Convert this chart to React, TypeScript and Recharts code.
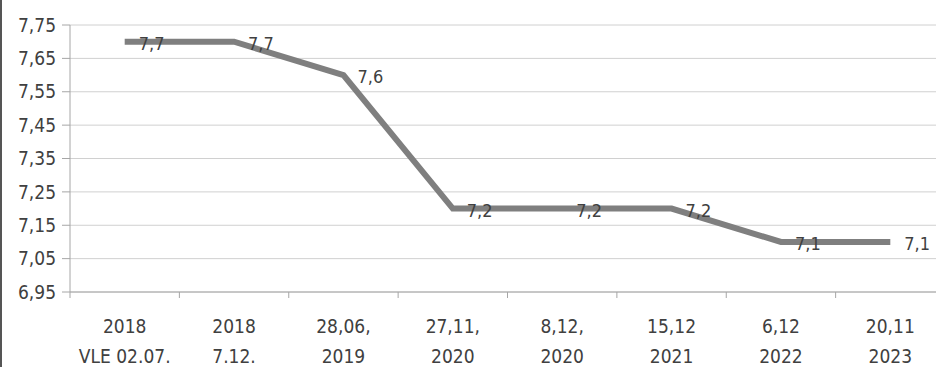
import React from 'react';
import { LineChart, Line, XAxis, YAxis, CartesianGrid, LabelList } from 'recharts';

const dateTop = ['2018', '2018', '28,06,', '27,11,', '8,12,', '15,12', '6,12', '20,11'];
const dateBottom = ['VLE 02.07.', '7.12.', '2019', '2020', '2020', '2021', '2022', '2023'];
const rates = [7.7, 7.7, 7.6, 7.2, 7.2, 7.2, 7.1, 7.1];
const yTicks = [6.95, 7.05, 7.15, 7.25, 7.35, 7.45, 7.55, 7.65, 7.75];

const data = dateTop.map((top, i) => ({ top, bottom: dateBottom[i], rate: rates[i] }));

const FONT = '"Liberation Sans Narrow", "DejaVu Sans Condensed", "Open Sans", sans-serif';
const CHART_W = 950;
const PLOT_LEFT = 70;
const PLOT_RIGHT = 5;
const BAND = (CHART_W - PLOT_LEFT - PLOT_RIGHT) / dateTop.length;

const comma = (v: number, digits: number) => v.toFixed(digits).replace('.', ',');

const DateTick = ({ x, y, payload, index }: any) => {
  const row = data[index] || { top: payload.value, bottom: '' };
  return (
    <g>
      <line x1={x - BAND / 2} x2={x - BAND / 2} y1={y - 8} y2={y - 2} stroke="#a6a6a6" />
      <text x={x} y={y + 33} textAnchor="middle" fontSize={19} fill="#404040" fontFamily={FONT}>
        {row.top}
      </text>
      <text x={x} y={y + 63} textAnchor="middle" fontSize={19} fill="#404040" fontFamily={FONT}>
        {row.bottom}
      </text>
    </g>
  );
};

// data label sitting to the right of each point, a bit below its centre
const RateLabel = ({ x, y, value }: any) => (
  <text x={x + 14} y={y + 8} fontSize={18} fill="#404040" fontFamily={FONT}>
    {comma(Number(value), 1)}
  </text>
);

export default function App() {
  return (
    <div
      style={{
        position: 'absolute',
        left: 0,
        top: 0,
        width: 936,
        height: 367,
        overflow: 'hidden',
        background: '#fff',
        borderLeft: '2px solid #555',
        boxSizing: 'border-box',
      }}
    >
      <LineChart
        width={CHART_W}
        height={367}
        data={data}
        margin={{ top: 25, right: PLOT_RIGHT, left: 0, bottom: 0 }}
        style={{ marginLeft: -2 }}
      >
        <CartesianGrid vertical={false} stroke="#d0d0d0" />
        <XAxis
          dataKey="top"
          height={75}
          stroke="#a6a6a6"
          tickLine={false}
          interval={0}
          padding={{ left: BAND / 2, right: BAND / 2 }}
          tick={<DateTick />}
        />
        <YAxis
          width={70}
          domain={[6.95, 7.75]}
          ticks={yTicks}
          tickFormatter={(v: number) => comma(v, 2)}
          stroke="#a6a6a6"
          tickSize={8}
          tickMargin={6}
          tick={{ fontSize: 19, fill: '#404040', fontFamily: FONT }}
        />
        <Line
          type="linear"
          dataKey="rate"
          stroke="#7f7f7f"
          strokeWidth={6}
          dot={false}
          isAnimationActive={false}
        >
          <LabelList dataKey="rate" content={<RateLabel />} />
        </Line>
      </LineChart>
    </div>
  );
}
